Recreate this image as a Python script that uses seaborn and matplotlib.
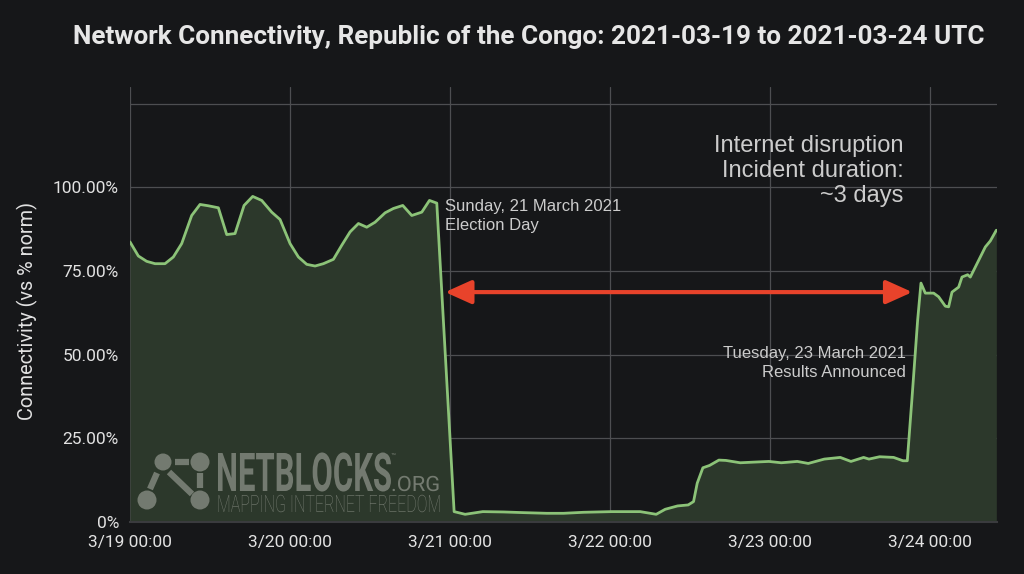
import numpy as np
import pandas as pd
import seaborn as sns
import matplotlib.pyplot as plt
from matplotlib.patches import Circle
from matplotlib.patheffects import AbstractPathEffect
from matplotlib.textpath import TextPath
from matplotlib.font_manager import FontProperties
from matplotlib.transforms import Affine2D

# hours since 2021-03-19 00:00 UTC
hours = [0, 1.25, 2.5, 3.75, 5.25, 6.5, 7.75, 9.25, 10.5, 11.75, 13.25, 14.5, 15.75,
         17.1, 18.4, 19.75, 21.25, 22.5, 24, 25.25, 26.5, 27.75, 29, 30.5, 31.75, 33,
         34.25, 35.5, 36.75, 38.25, 39.5, 40.9, 42.25, 43.75, 44.9, 46.0,
         48.6, 50.25, 52.9, 56, 59, 62.5, 65, 68, 72.2, 76.5, 78.9, 80.25, 82.1, 83.7,
         84.5, 85.05, 85.9, 86.9, 88.3, 89.35, 91.5, 93.6, 95.8, 97.65, 100.05, 101.7,
         104.1, 106.5, 108.1, 110, 110.8, 112.4, 114.5, 115.9, 116.55, 117.25, 118.1,
         118.6, 119.25, 120.5, 121.25, 122.25, 122.75, 123.25, 124.25, 124.75, 125.6,
         126, 127, 128.25, 129, 129.9]
connectivity = [83.7, 79.5, 77.9, 77.2, 77.2, 79.2, 83.2, 91.6, 94.9, 94.5, 93.9, 85.9, 86.2,
                94.6, 97.3, 96.1, 92.6, 90.4, 83.2, 79.2, 77.0, 76.5, 77.2, 78.5, 82.7, 86.7,
                89.2, 88.1, 89.6, 92.4, 93.7, 94.6, 91.6, 92.6, 96.1, 95.3,
                3.1, 2.3, 3.1, 3.0, 2.8, 2.6, 2.6, 2.9, 3.1, 3.1, 2.3, 3.8, 4.8, 5.1,
                6.1, 11.6, 16.2, 16.9, 18.5, 18.4, 17.7, 17.9, 18.1, 17.7, 18.1, 17.5,
                18.8, 19.3, 18.1, 19.3, 18.8, 19.5, 19.3, 18.3, 18.3, 36.9, 60.3,
                71.4, 68.4, 68.4, 67.3, 64.5, 64.3, 68.7, 70.2, 73.2, 73.9,
                73.2, 77.2, 82.2, 84.0, 87.2]

day_ticks = [0, 24, 48, 72, 96, 120]
day_labels = ["3/19 00:00", "3/20 00:00", "3/21 00:00", "3/22 00:00", "3/23 00:00", "3/24 00:00"]
pct_ticks = [0, 25, 50, 75, 100, 125]
pct_labels = ["0%", "25.00%", "50.00%", "75.00%", "100.00%", ""]

# outage arrow: from election day drop to recovery
outage_start, outage_end, arrow_level = 47.25, 117.3, 68.7

BG = "#161719"
LINE = "#8cc378"
FILL = "#2c382b"
RED = "#e8432b"
TXT = "#e2e2e2"
NOTE = "#cccccc"
MARK = "#7c8278"

df = pd.DataFrame({"hours": hours, "connectivity": connectivity})

sns.set_theme(style="darkgrid", rc={
    "axes.facecolor": BG, "figure.facecolor": BG,
    "grid.color": "#4d4e51", "grid.linewidth": 0.9,
    "axes.edgecolor": BG, "text.color": TXT,
    "xtick.color": TXT, "ytick.color": TXT, "axes.labelcolor": TXT,
})
plt.rcParams["font.family"] = ["Roboto", "DejaVu Sans"]


class Stretch(AbstractPathEffect):
    """stretch glyphs vertically about the baseline (condensed logo look)"""
    def __init__(self, sy):
        super().__init__()
        self.sy = sy

    def draw_path(self, renderer, gc, tpath, affine, rgbFace=None):
        x0, y0 = affine.transform((0, 0))
        extra = Affine2D().translate(0, -y0).scale(1, self.sy).translate(0, y0)
        renderer.draw_path(gc, tpath, affine + extra, rgbFace)


def fit_logo_text(text, weight, width_px, cap_px, dpi=100):
    # font size giving the wanted width, and a vertical stretch giving the cap height
    prop = FontProperties(family="Roboto", weight=weight)
    w = TextPath((0, 0), text, size=1, prop=prop).get_extents().width
    size = width_px * 72 / dpi / w
    sy = cap_px / (0.711 * size * dpi / 72)
    return size, sy


fig = plt.figure(figsize=(10.24, 5.74), dpi=100)
ax = fig.add_axes([130 / 1024, 1 - 522 / 574, 867 / 1024, 435 / 574])

ax.fill_between(df["hours"], df["connectivity"], 0, color=FILL, lw=0, zorder=2)
sns.lineplot(data=df, x="hours", y="connectivity", color=LINE, lw=2.0, ax=ax, zorder=3)

ax.set_xlim(0, 130)
ax.set_ylim(0, 130)
ax.set_xticks(day_ticks)
ax.set_xticklabels(day_labels, fontsize=12.5)
ax.set_yticks(pct_ticks)
ax.set_yticklabels(pct_labels, fontsize=12.5)
ax.tick_params(axis="both", length=0)
ax.tick_params(axis="y", pad=8)
ax.tick_params(axis="x", pad=9)
ax.set_xlabel("")
ax.set_ylabel("Connectivity (vs % norm)", fontsize=14.3)
ax.yaxis.set_label_coords(-0.106, 0.485)
for s in ["top", "right", "left"]:
    ax.spines[s].set_visible(False)
ax.spines["bottom"].set_color("#3a3b3e")
ax.spines["bottom"].set_linewidth(1.5)
ax.spines["bottom"].set_zorder(4)

fig.text(0.516, 0.935, "Network Connectivity, Republic of the Congo: 2021-03-19 to 2021-03-24 UTC",
         ha="center", va="center", fontsize=18.8, fontweight="bold", color="#e6e6e6")

# annotations
ann_font = ["Liberation Sans", "DejaVu Sans"]
ax.annotate("", xy=(outage_start, arrow_level), xytext=(outage_end, arrow_level),
            arrowprops=dict(arrowstyle="<|-|>,head_length=0.8,head_width=0.36",
                            color=RED, lw=3, shrinkA=0, shrinkB=0, mutation_scale=20),
            zorder=5)
ax.text(47.25, 96.6, "Sunday, 21 March 2021\nElection Day", ha="left", va="top",
        fontsize=12, color=NOTE, family=ann_font, linespacing=1.32, zorder=6)
ax.text(116.4, 52.6, "Tuesday, 23 March 2021\nResults Announced", ha="right", va="top",
        fontsize=12, color=NOTE, family=ann_font, linespacing=1.32, multialignment="right", zorder=6)
ax.text(115.95, 115.8, "Internet disruption\nIncident duration:\n~3 days", ha="right", va="top",
        fontsize=17, color=NOTE, family=ann_font, linespacing=1.2, multialignment="right", zorder=6)

# watermark overlay in pixel coordinates
ov = fig.add_axes([0, 0, 1, 1], zorder=5)
ov.set_xlim(0, 1024)
ov.set_ylim(574, 0)
ov.axis("off")
ov.patch.set_alpha(0)
for cx, cy, r in [(163, 462, 8.5), (200, 462, 9.5), (147, 500, 9.5), (200, 500, 9.5)]:
    ov.add_patch(Circle((cx, cy), r, color=MARK, alpha=0.9, lw=0))
for (x1, y1), (x2, y2) in [((175, 462), (189, 462)), ((169, 472), (192, 494)),
                           ((157, 473), (150, 489)), ((200, 473), (200, 488))]:
    ov.plot([x1, x2], [y1, y2], color=MARK, lw=4.5, alpha=0.9, solid_capstyle="butt")

size1, sy1 = fit_logo_text("NETBLOCKS", "bold", 173, 38)
ov.text(216, 491, "NETBLOCKS", fontsize=size1, fontweight="bold", color=MARK, alpha=0.9,
        ha="left", va="baseline", path_effects=[Stretch(sy1)])
size2, sy2 = fit_logo_text(".ORG", "normal", 46, 15)
ov.text(391, 491, ".ORG", fontsize=size2, color=MARK, alpha=0.9,
        ha="left", va="baseline", path_effects=[Stretch(sy2)])
ov.text(391, 459, "™", fontsize=6, color=MARK, alpha=0.9, ha="left", va="baseline")
size3, sy3 = fit_logo_text("MAPPING INTERNET FREEDOM", "light", 221, 17)
ov.text(217, 512, "MAPPING INTERNET FREEDOM", fontsize=size3, fontweight="light", color=MARK,
        alpha=0.9, ha="left", va="baseline", path_effects=[Stretch(sy3)])

fig.savefig("out.png", dpi=100, facecolor=BG)
